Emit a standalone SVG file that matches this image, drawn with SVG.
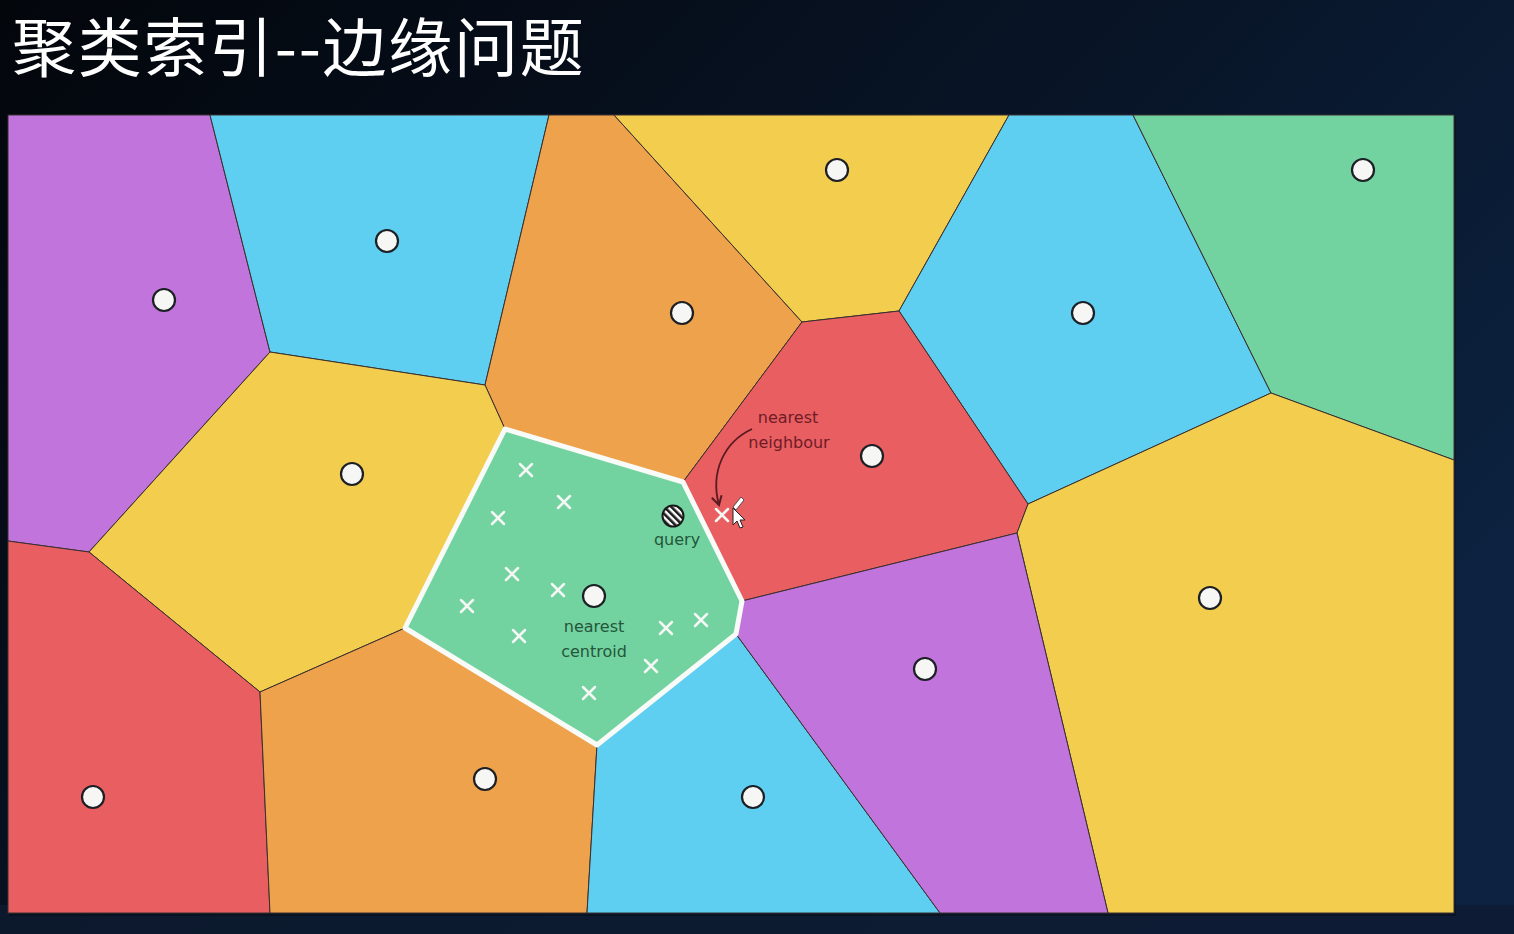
<svg xmlns="http://www.w3.org/2000/svg" width="1514" height="934" viewBox="0 0 1514 934">
<defs>
<linearGradient id="bg" x1="0" y1="0" x2="1" y2="0.6">
<stop offset="0" stop-color="#03060b"/>
<stop offset="0.55" stop-color="#081426"/>
<stop offset="1" stop-color="#0c2240"/>
</linearGradient>
<pattern id="hatch" width="5" height="5" patternUnits="userSpaceOnUse" patternTransform="rotate(-45)">
<rect width="5" height="5" fill="#ffffff"/>
<rect width="2.6" height="5" fill="#1a1a1a"/>
</pattern>
<marker id="ah" viewBox="0 0 10 10" refX="8" refY="5" markerWidth="7" markerHeight="7" orient="auto">
<path d="M1,1 L8,5 L1,9" fill="none" stroke="#5a1a22" stroke-width="1.6"/>
</marker>
<symbol id="x" viewBox="-8 -8 16 16" overflow="visible">
<path d="M-6,-6 L6,6 M6,-6 L-6,6" stroke="#f4f7f4" stroke-width="2.5" stroke-linecap="round"/>
</symbol>
</defs>
<style>
.cell{stroke:#3a3030;stroke-width:1;stroke-linejoin:round}
.purple{fill:#c074dc}
.blue{fill:#5ecff1}
.orange{fill:#efa24c}
.yellow{fill:#f2cd4e}
.green{fill:#73d3a0}
.red{fill:#e95e61}
.cen{fill:#f6f6f4;stroke:#1c1f24;stroke-width:2.2}
.hand{font-family:"DejaVu Sans","Liberation Sans",sans-serif;font-size:16px;text-anchor:middle}
.tg{fill:#24563a}
.tr{fill:#6e1c26}
</style>
<rect width="1514" height="934" fill="url(#bg)"/>
<rect x="0" y="905" width="1514" height="29" fill="#0e1c31" opacity="0.8"/>
<text x="12" y="71" font-family="'Noto Sans CJK SC','Noto Sans CJK JP',sans-serif" font-size="64" letter-spacing="1.7" fill="#ffffff">聚类索引--边缘问题</text>
<rect x="9" y="116" width="1447" height="800" fill="#000" opacity="0.25"/>
<g id="cell-purple-tl"><polygon class="cell purple" points="8,115 210,115 270,352 89,552 8,541"/><circle class="cen" cx="164" cy="300" r="11"/></g>
<g id="cell-blue-top"><polygon class="cell blue" points="210,115 549,115 485,385 270,352"/><circle class="cen" cx="387" cy="241" r="11"/></g>
<g id="cell-orange-top"><polygon class="cell orange" points="549,115 614,115 802,322 683,482 505,429 485,385"/><circle class="cen" cx="682" cy="313" r="11"/></g>
<g id="cell-yellow-top"><polygon class="cell yellow" points="614,115 1009,115 899,311 802,322"/><circle class="cen" cx="837" cy="170" r="11"/></g>
<g id="cell-blue-tr"><polygon class="cell blue" points="1009,115 1133,115 1271,393 1028,504 899,311"/><circle class="cen" cx="1083" cy="313" r="11"/></g>
<g id="cell-green-tr"><polygon class="cell green" points="1133,115 1454,115 1454,460 1271,393"/><circle class="cen" cx="1363" cy="170" r="11"/></g>
<g id="cell-yellow-left"><polygon class="cell yellow" points="270,352 485,385 505,429 405,628 260,692 89,552"/><circle class="cen" cx="352" cy="474" r="11"/></g>
<g id="cell-red-center"><polygon class="cell red" points="802,322 899,311 1028,504 1017,533 742,601 683,482"/><circle class="cen" cx="872" cy="456" r="11"/></g>
<g id="cell-yellow-right"><polygon class="cell yellow" points="1271,393 1454,460 1454,913 1108,913 1017,533 1028,504"/><circle class="cen" cx="1210" cy="598" r="11"/></g>
<g id="cell-red-bl"><polygon class="cell red" points="8,541 89,552 260,692 270,913 8,913"/><circle class="cen" cx="93" cy="797" r="11"/></g>
<g id="cell-orange-bottom"><polygon class="cell orange" points="260,692 405,628 597,745 587,913 270,913"/><circle class="cen" cx="485" cy="779" r="11"/></g>
<g id="cell-blue-bottom"><polygon class="cell blue" points="597,745 736,634 940,913 587,913"/><circle class="cen" cx="753" cy="797" r="11"/></g>
<g id="cell-purple-bottom"><polygon class="cell purple" points="736,634 742,601 1017,533 1108,913 940,913"/><circle class="cen" cx="925" cy="669" r="11"/></g>
<g id="cell-green-query">
<polygon class="green" points="505,429 683,482 742,601 736,634 597,745 405,628" stroke="#f8fbf8" stroke-width="5" stroke-linejoin="round"/>
<use href="#x" x="518" y="462" width="16" height="16"/>
<use href="#x" x="556" y="494" width="16" height="16"/>
<use href="#x" x="490" y="510" width="16" height="16"/>
<use href="#x" x="504" y="566" width="16" height="16"/>
<use href="#x" x="550" y="582" width="16" height="16"/>
<use href="#x" x="459" y="598" width="16" height="16"/>
<use href="#x" x="511" y="628" width="16" height="16"/>
<use href="#x" x="658" y="620" width="16" height="16"/>
<use href="#x" x="693" y="612" width="16" height="16"/>
<use href="#x" x="643" y="658" width="16" height="16"/>
<use href="#x" x="581" y="685" width="16" height="16"/>
<circle class="cen" cx="594" cy="596" r="11"/>
<text class="hand tg" x="594" y="632">nearest</text>
<text class="hand tg" x="594" y="657">centroid</text>
</g>
<g id="query">
<circle cx="673" cy="516" r="10.5" fill="url(#hatch)" stroke="#1a1a1a" stroke-width="2"/>
<text class="hand tg" x="677" y="545">query</text>
</g>
<g id="nearest-neighbour">
<use href="#x" x="714" y="507" width="16" height="16"/>
<text class="hand tr" x="788" y="423">nearest</text>
<text class="hand tr" x="789" y="448">neighbour</text>
</g>
<g id="connectors">
<path d="M752,429 C724,442 710,472 719,505" fill="none" stroke="#5a1a22" stroke-width="1.8" marker-end="url(#ah)"/>
</g>
<g id="cursor">
<path d="M733,508 L733,525 L737,521 L740,528 L743,527 L740,520 L745,520 Z" fill="#ffffff" stroke="#222" stroke-width="1"/>
<path d="M733,507 L741,497 L744,500 L736,510 Z" fill="#ffffff" stroke="#333" stroke-width="0.8"/>
</g>
</svg>
